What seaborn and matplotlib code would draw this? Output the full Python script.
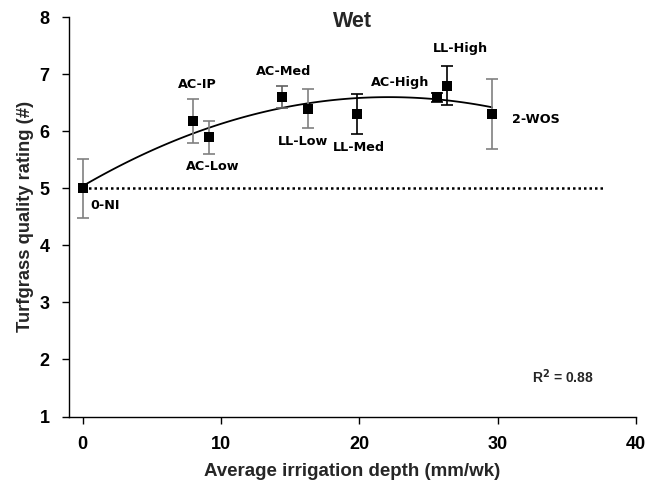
import numpy as np
import pandas as pd
import matplotlib
matplotlib.use("Agg")
import matplotlib.pyplot as plt
import seaborn as sns

# Data
treatments = ['0-NI', 'AC-IP', 'AC-Low', 'AC-Med', 'LL-Low', 'LL-Med', 'AC-High', 'LL-High', '2-WOS']
depth = [0.0, 8.0, 9.1, 14.4, 16.3, 19.8, 25.6, 26.3, 29.6]
rating = [5.0, 6.18, 5.9, 6.6, 6.4, 6.3, 6.6, 6.8, 6.3]
err = [0.52, 0.39, 0.29, 0.19, 0.34, 0.35, 0.08, 0.34, 0.61]
bar_color = ['#808080', '#808080', '#808080', '#606060', '#808080', 'black', 'black', 'black', '#808080']

# label offsets (data units) and alignment per treatment
label_dx = [0.55, 0.25, 0.3, 0.1, -0.35, 0.2, -2.65, 1.0, 1.4]
label_dy = [-0.30, 0.64, -0.52, 0.45, -0.57, -0.58, 0.25, 0.66, -0.09]
label_ha = ['left', 'center', 'center', 'center', 'center', 'center', 'center', 'center', 'left']

df = pd.DataFrame({'treatment': treatments, 'depth': depth, 'rating': rating, 'err': err})

sns.set_theme(style="ticks")
plt.rcParams['font.family'] = ['Liberation Sans', 'DejaVu Sans']

fig = plt.figure(figsize=(6.47, 4.91), dpi=100)
ax = fig.add_axes([0.1066, 0.1517, 0.8764, 0.8131])

# quadratic trend line
sns.regplot(data=df, x='depth', y='rating', order=2, ci=None, scatter=False, truncate=True,
            line_kws={'color': 'black', 'lw': 1.3}, ax=ax)

# reference line for non-irrigated
ax.plot([0, 37.7], [5, 5], color='black', lw=1.8, linestyle=(0, (1, 1.2)), zorder=1)

for i in range(len(df)):
    ax.errorbar(depth[i], rating[i], yerr=err[i], fmt='none', ecolor=bar_color[i],
                elinewidth=1.2, capsize=4.3, capthick=1.2, zorder=2)
sns.scatterplot(data=df, x='depth', y='rating', marker='s', s=55, color='black',
                edgecolor='black', linewidth=0, zorder=3, ax=ax)

for i in range(len(df)):
    ax.text(depth[i] + label_dx[i], rating[i] + label_dy[i], treatments[i],
            ha=label_ha[i], va='center', fontsize=9.2, fontweight='bold',
            family='DejaVu Sans', color='black')

ax.text(0.5, 0.99, 'Wet', transform=ax.transAxes, ha='center', va='center',
        fontsize=15.5, fontweight='bold')
ax.text(34.7, 1.69, r'R$^{\mathbf{2}}$ = 0.88', ha='center', va='center',
        fontsize=10, fontweight='bold')

ax.set_xlim(-1, 40)
ax.set_ylim(1, 8)
ax.set_xticks([0, 10, 20, 30, 40])
ax.set_yticks([1, 2, 3, 4, 5, 6, 7, 8])
ax.tick_params(axis='both', direction='out', length=5, width=1, colors='black',
               labelsize=13, pad=9)
for lab in ax.get_xticklabels() + ax.get_yticklabels():
    lab.set_fontweight('bold')

ax.set_xlabel('Average irrigation depth (mm/wk)', fontsize=13.5, fontweight='bold', labelpad=7)
ax.set_ylabel('Turfgrass quality rating (#)', fontsize=13.2, fontweight='bold', labelpad=4)

sns.despine(ax=ax)
for s in ['left', 'bottom']:
    ax.spines[s].set_color('black')
    ax.spines[s].set_linewidth(1)

fig.savefig('out.png', dpi=100)
